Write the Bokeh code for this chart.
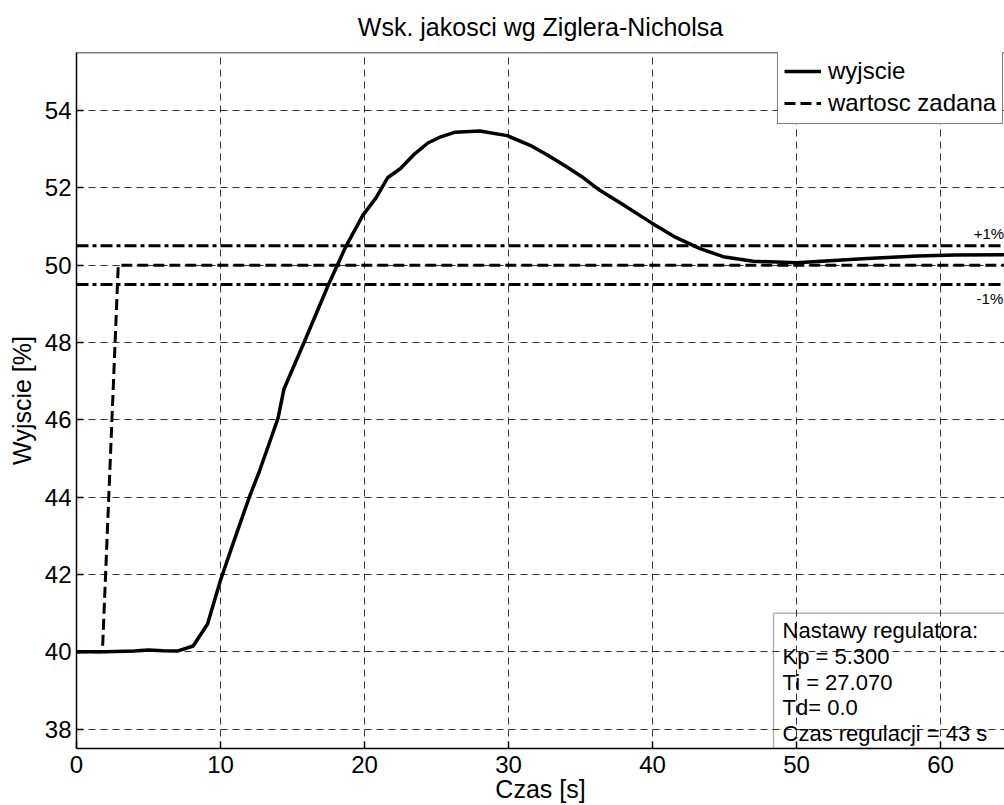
from bokeh.plotting import figure
from bokeh.models import (Range1d, FixedTicker, Span, BoxAnnotation,
                          Label, Legend, LegendItem)
from bokeh.embed import file_html
from bokeh.resources import INLINE

# ---- data ----
t_out = [0, 2, 4, 5, 6, 7, 8.1, 9.1, 10, 10.9, 12, 12.7, 13.6, 14.0, 14.4, 15.8,
         17.5, 18.7, 19.9, 20.8, 21.6, 22.5, 23.4, 24.4, 25.3, 26.3, 28.0, 29.9,
         31.5, 32.7, 34.0, 35.2, 36.2, 37.8, 39.9, 41.5, 43.3, 44.9, 47.0, 50.0,
         52.6, 54.9, 58.4, 61.0, 64.5]
y_out = [40.0, 40.0, 40.02, 40.05, 40.03, 40.02, 40.15, 40.72, 41.85, 42.83, 44.0,
         44.67, 45.62, 46.05, 46.79, 48.0, 49.5, 50.48, 51.3, 51.74, 52.26, 52.5,
         52.85, 53.16, 53.32, 53.44, 53.47, 53.35, 53.1, 52.85, 52.55, 52.26, 51.97,
         51.6, 51.1, 50.74, 50.43, 50.22, 50.1, 50.06, 50.12, 50.17, 50.24, 50.26,
         50.27]
t_set = [0, 1.8, 2.9, 64.5]
y_set = [40, 40, 50, 50]
band_upper = 50.5
band_lower = 49.5
x_ticks = [0, 10, 20, 30, 40, 50, 60, 70]
y_ticks = [38, 40, 42, 44, 46, 48, 50, 52, 54]
title_text = "Wsk. jakosci wg Ziglera-Nicholsa"
x_label = "Czas [s]"
y_label = "Wyjscie [%]"
legend_labels = ["wyjscie", "wartosc zadana"]
box_lines = ["Nastawy regulatora:", "Kp = 5.300", "Ti = 27.070", "Td= 0.0",
             "Czas regulacji = 43 s"]
band_labels = ["+1%", "-1%"]

FONT = "Liberation Sans"
X_MIN, X_MAX = 0, 64.44
Y_MIN, Y_MAX = 37.5, 55.5

p = figure(width=1004, height=805, x_range=Range1d(X_MIN, X_MAX),
           y_range=Range1d(Y_MIN, Y_MAX), output_backend="svg",
           toolbar_location=None, min_border_left=76, min_border_right=0,
           min_border_top=52, min_border_bottom=56, title=title_text)
p.background_fill_color = "white"
p.border_fill_color = "white"
p.outline_line_color = None

p.title.text_font = FONT
p.title.text_font_size = "25px"
p.title.text_font_style = "normal"
p.title.align = "center"
p.title.vertical_align = "middle"
p.title.text_color = "black"
p.title.standoff = 22

for ax, ticks, lab in ((p.xaxis, x_ticks, x_label), (p.yaxis, y_ticks, y_label)):
    ax.ticker = FixedTicker(ticks=ticks)
    ax.axis_label = lab
    ax.axis_label_text_font = FONT
    ax.axis_label_text_font_size = "25px"
    ax.axis_label_text_font_style = "normal"
    ax.axis_label_text_color = "black"
    ax.major_label_text_font = FONT
    ax.major_label_text_font_size = "24px"
    ax.major_label_text_color = "black"
    ax.major_tick_in = 7
    ax.major_tick_out = 0
    ax.minor_tick_line_color = None
    ax.axis_line_width = 1.5
    ax.axis_line_color = "black"
    ax.major_tick_line_color = "black"
    ax.major_tick_line_width = 1.5
p.xaxis.major_label_standoff = 7
p.xaxis.axis_label_standoff = -1
p.yaxis.major_label_standoff = 5
p.yaxis.axis_label_standoff = 6

for g, ticks in ((p.xgrid, x_ticks), (p.ygrid, y_ticks)):
    g.ticker = FixedTicker(ticks=ticks)
    g.grid_line_color = "black"
    g.grid_line_alpha = 0.8
    g.grid_line_width = 1
    g.grid_line_dash = "7 5"

# top border of the axes box
p.add_layout(Span(location=Y_MAX, dimension="width", line_color="black",
                  line_width=1.5))

# tolerance bands
for loc in (band_upper, band_lower):
    p.add_layout(Span(location=loc, dimension="width", line_color="black",
                      line_width=3, line_dash="12 4 4 4"))

r_out = p.line(t_out, y_out, line_color="black", line_width=3.5)
r_set = p.line(t_set, y_set, line_color="black", line_width=3, line_dash="11 5")

p.add_layout(Label(x=62.3, y=band_upper, y_offset=4, text=band_labels[0],
                   text_font=FONT, text_font_size="15px", text_color="black"))
p.add_layout(Label(x=62.5, y=band_lower, y_offset=-22, text=band_labels[1],
                   text_font=FONT, text_font_size="15px", text_color="black"))

# parameter box
p.add_layout(BoxAnnotation(left=48.4, right=80, top=41.0, bottom=Y_MIN,
                           fill_alpha=0, line_color="black", line_width=1.5))
for i, s in enumerate(box_lines):
    p.add_layout(Label(x=48.4, y=41.0, x_offset=9, y_offset=-(30 + 25.7 * i),
                       text=s, text_font=FONT, text_font_size="22px",
                       text_color="black"))

legend = Legend(items=[LegendItem(label=legend_labels[0], renderers=[r_out]),
                       LegendItem(label=legend_labels[1], renderers=[r_set])],
                location=(701, 624), padding=6, spacing=4, glyph_height=28,
                label_height=28, glyph_width=37, label_standoff=7,
                label_text_font=FONT, label_text_font_size="24px",
                label_text_color="black", border_line_color="black",
                border_line_width=1.5, background_fill_alpha=1, margin=0)
p.add_layout(legend)

open("out.html", "w").write(file_html(p, INLINE))
